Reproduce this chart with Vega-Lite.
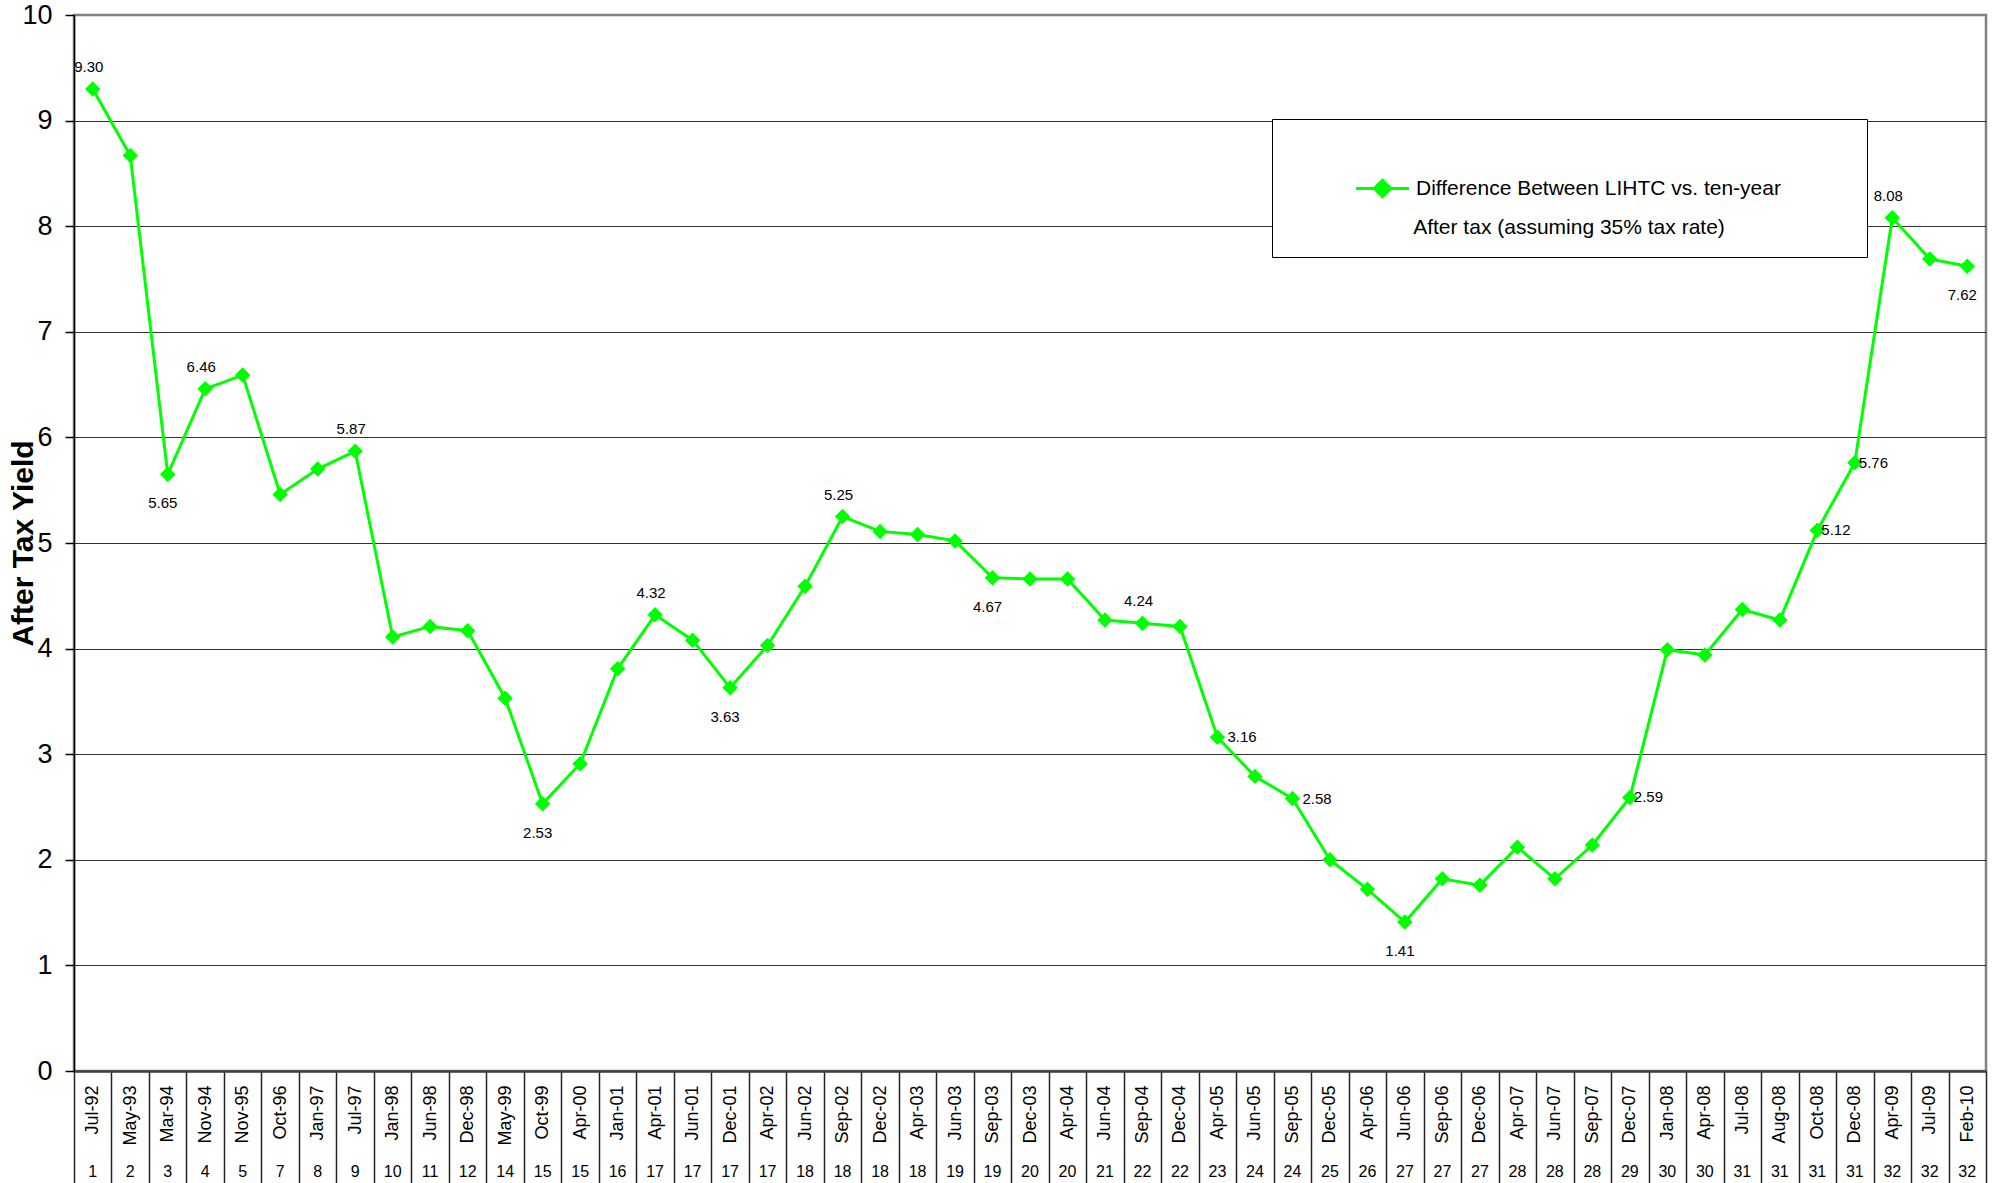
{
  "$schema": "https://vega.github.io/schema/vega-lite/v6.json",
  "width": 1912,
  "height": 1056,
  "autosize": {"type": "none"},
  "padding": {"left": 74, "top": 15, "right": 21, "bottom": 112},
  "background": "white",
  "config": {
    "font": "Liberation Sans",
    "view": {"stroke": "#808080", "strokeWidth": 2.5}
  },
  "data": {
    "values": [
      {"date": "Jul-92", "n": 1, "value": 9.30},
      {"date": "May-93", "n": 2, "value": 8.67},
      {"date": "Mar-94", "n": 3, "value": 5.65},
      {"date": "Nov-94", "n": 4, "value": 6.46},
      {"date": "Nov-95", "n": 5, "value": 6.59},
      {"date": "Oct-96", "n": 7, "value": 5.46},
      {"date": "Jan-97", "n": 8, "value": 5.70},
      {"date": "Jul-97", "n": 9, "value": 5.87},
      {"date": "Jan-98", "n": 10, "value": 4.11},
      {"date": "Jun-98", "n": 11, "value": 4.21},
      {"date": "Dec-98", "n": 12, "value": 4.17},
      {"date": "May-99", "n": 14, "value": 3.53},
      {"date": "Oct-99", "n": 15, "value": 2.53},
      {"date": "Apr-00", "n": 15, "value": 2.91},
      {"date": "Jan-01", "n": 16, "value": 3.81},
      {"date": "Apr-01", "n": 17, "value": 4.32},
      {"date": "Jun-01", "n": 17, "value": 4.08},
      {"date": "Dec-01", "n": 17, "value": 3.63},
      {"date": "Apr-02", "n": 17, "value": 4.03},
      {"date": "Jun-02", "n": 18, "value": 4.59},
      {"date": "Sep-02", "n": 18, "value": 5.25},
      {"date": "Dec-02", "n": 18, "value": 5.11},
      {"date": "Apr-03", "n": 18, "value": 5.08},
      {"date": "Jun-03", "n": 19, "value": 5.02},
      {"date": "Sep-03", "n": 19, "value": 4.67},
      {"date": "Dec-03", "n": 20, "value": 4.66},
      {"date": "Apr-04", "n": 20, "value": 4.66},
      {"date": "Jun-04", "n": 21, "value": 4.27},
      {"date": "Sep-04", "n": 22, "value": 4.24},
      {"date": "Dec-04", "n": 22, "value": 4.21},
      {"date": "Apr-05", "n": 23, "value": 3.16},
      {"date": "Jun-05", "n": 24, "value": 2.79},
      {"date": "Sep-05", "n": 24, "value": 2.58},
      {"date": "Dec-05", "n": 25, "value": 2.00},
      {"date": "Apr-06", "n": 26, "value": 1.72},
      {"date": "Jun-06", "n": 27, "value": 1.41},
      {"date": "Sep-06", "n": 27, "value": 1.82},
      {"date": "Dec-06", "n": 27, "value": 1.76},
      {"date": "Apr-07", "n": 28, "value": 2.12},
      {"date": "Jun-07", "n": 28, "value": 1.82},
      {"date": "Sep-07", "n": 28, "value": 2.14},
      {"date": "Dec-07", "n": 29, "value": 2.59},
      {"date": "Jan-08", "n": 30, "value": 3.99},
      {"date": "Apr-08", "n": 30, "value": 3.94},
      {"date": "Jul-08", "n": 31, "value": 4.37},
      {"date": "Aug-08", "n": 31, "value": 4.27},
      {"date": "Oct-08", "n": 31, "value": 5.12},
      {"date": "Dec-08", "n": 31, "value": 5.76},
      {"date": "Apr-09", "n": 32, "value": 8.08},
      {"date": "Jul-09", "n": 32, "value": 7.69},
      {"date": "Feb-10", "n": 32, "value": 7.62}
    ]
  },
  "encoding": {
    "x": {
      "field": "date",
      "type": "nominal",
      "sort": null,
      "scale": {"type": "band", "paddingInner": 0, "paddingOuter": 0},
      "axis": {
        "title": null,
        "labelAngle": -90,
        "labelFont": "Liberation Sans",
        "labelFontSize": 18,
        "labelColor": "black",
        "labelPadding": -98,
        "tickBand": "extent",
        "tickSize": 112,
        "tickColor": "#222222",
        "tickWidth": 1.5,
        "domainColor": "#404040",
        "domainWidth": 2.5,
        "grid": false
      }
    },
    "y": {
      "field": "value",
      "type": "quantitative",
      "scale": {"domain": [0, 10], "nice": false},
      "axis": {
        "title": "After Tax Yield",
        "titleFont": "Liberation Sans",
        "titleFontSize": 30,
        "titleFontWeight": "bold",
        "titleColor": "black",
        "titlePadding": -17,
        "values": [0, 1, 2, 3, 4, 5, 6, 7, 8, 9, 10],
        "labelFont": "Liberation Sans",
        "labelFontSize": 27,
        "labelColor": "black",
        "labelPadding": 13,
        "tickSize": 9,
        "tickColor": "black",
        "tickWidth": 1.5,
        "domainColor": "black",
        "domainWidth": 1.5,
        "grid": true,
        "gridColor": {"condition": {"test": "datum.value === 10", "value": "#808080"}, "value": "#333333"},
        "gridWidth": 1
      }
    }
  },
  "layer": [
    {
      "mark": {"type": "line", "strokeWidth": 3},
      "encoding": {
        "color": {
          "datum": "Difference Between LIHTC vs. ten-year",
          "type": "nominal",
          "scale": {"range": ["#00FF00"]},
          "legend": {
            "orient": "none",
            "legendX": 1198,
            "legendY": 104,
            "title": "After tax (assuming 35% tax rate)",
            "titleOrient": "bottom",
            "titleAnchor": "middle",
            "titleFont": "Liberation Sans",
            "titleFontSize": 21,
            "titleFontWeight": "normal",
            "titleColor": "black",
            "titlePadding": 14,
            "titleLimit": 700,
            "labelFont": "Liberation Sans",
            "labelFontSize": 21,
            "labelColor": "black",
            "labelOffset": -17,
            "labelLimit": 700,
            "symbolType": "M-0.54,0H0.54M0,-0.165L0.165,0L0,0.165L-0.165,0ZM9.37,0",
            "symbolSize": 9604,
            "symbolStrokeWidth": 3,
            "symbolStrokeColor": "#00FF00",
            "symbolFillColor": "#00FF00",
            "strokeColor": "black",
            "fillColor": "white",
            "padding": 19,
            "symbolOffset": 41
          }
        }
      }
    },
    {
      "mark": {"type": "point", "shape": "diamond", "filled": true, "size": 240, "color": "#00FF00", "opacity": 1}
    },
    {
      "transform": [{"filter": {"field": "date", "oneOf": ["Jul-92", "Nov-94", "Jul-97", "Apr-01", "Sep-02", "Sep-04", "Apr-09"]}}],
      "mark": {"type": "text", "dy": -22, "dx": -4, "fontSize": 15, "font": "Liberation Sans", "color": "black", "baseline": "middle"},
      "encoding": {"text": {"field": "value", "type": "quantitative", "format": ".2f"}}
    },
    {
      "transform": [{"filter": {"field": "date", "oneOf": ["Mar-94", "Oct-99", "Dec-01", "Sep-03", "Jun-06", "Feb-10"]}}],
      "mark": {"type": "text", "dy": 29, "dx": -5, "fontSize": 15, "font": "Liberation Sans", "color": "black", "baseline": "middle"},
      "encoding": {"text": {"field": "value", "type": "quantitative", "format": ".2f"}}
    },
    {
      "transform": [{"filter": {"field": "date", "oneOf": ["Apr-05", "Sep-05"]}}],
      "mark": {"type": "text", "dx": 10, "align": "left", "fontSize": 15, "font": "Liberation Sans", "color": "black", "baseline": "middle"},
      "encoding": {"text": {"field": "value", "type": "quantitative", "format": ".2f"}}
    },
    {
      "transform": [{"filter": {"field": "date", "oneOf": ["Dec-07", "Oct-08", "Dec-08"]}}],
      "mark": {"type": "text", "dx": 4, "align": "left", "fontSize": 15, "font": "Liberation Sans", "color": "black", "baseline": "middle"},
      "encoding": {"text": {"field": "value", "type": "quantitative", "format": ".2f"}}
    },
    {
      "mark": {"type": "text", "dy": 101, "fontSize": 16, "font": "Liberation Sans", "color": "black", "baseline": "middle"},
      "encoding": {
        "y": {"datum": 0, "type": "quantitative"},
        "text": {"field": "n", "type": "quantitative"}
      }
    }
  ]
}
